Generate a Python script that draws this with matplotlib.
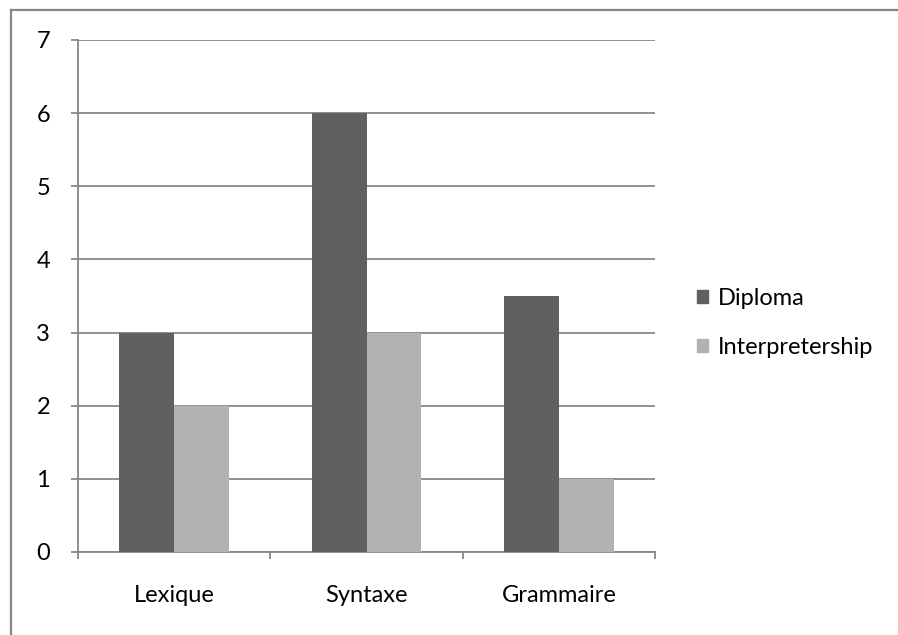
import numpy as np
import matplotlib
matplotlib.use("Agg")
from matplotlib import pyplot as plt
from matplotlib.patches import Patch
from matplotlib.lines import Line2D

categories = ["Lexique", "Syntaxe", "Grammaire"]
diploma = [3, 6, 3.5]
interpretership = [2, 3, 1]
series_names = ["Diploma", "Interpretership"]

plt.rcParams['font.family'] = ['Lato', 'DejaVu Sans']
GRID = '#878787'
DARK = '#606060'
LIGHT = '#b2b2b2'
FS = 17

fig = plt.figure(figsize=(8.98, 6.35), dpi=100)
ax = fig.add_axes([78/898, 1-552/635, (655-78)/898, (552-40)/635])

x = np.arange(len(categories))
w = 0.285
ax.bar(x - w/2, diploma, w, color=DARK, zorder=3)
ax.bar(x + w/2, interpretership, w, color=LIGHT, zorder=3)

ax.set_xlim(-0.5, 2.5)
ax.set_ylim(0, 7)
ax.set_yticks(range(0, 8))
ax.yaxis.grid(True, color=GRID, linewidth=1.3, zorder=0)
ax.set_xticks(x)
ax.set_xticklabels(categories, fontsize=FS)
ax.set_xticks([-0.5, 0.5, 1.5, 2.5], minor=True)
ax.tick_params(axis='x', which='major', length=0, pad=24)
ax.tick_params(axis='x', which='minor', length=5, color=GRID, width=1.3)
ax.tick_params(axis='y', length=5, color=GRID, width=1.3, pad=15, labelsize=FS)
for s in ['top', 'right']:
    ax.spines[s].set_visible(False)
for s in ['left', 'bottom']:
    ax.spines[s].set_color(GRID)
    ax.spines[s].set_linewidth(1.3)

handles = [Patch(color=DARK), Patch(color=LIGHT)]
fig.legend(handles, series_names, loc='center left', bbox_to_anchor=(697/898, 1-323/635),
           frameon=False, handlelength=0.47, handleheight=0.47, handletextpad=0.42,
           labelspacing=1.2, borderpad=0, borderaxespad=0, fontsize=FS)

# outer frame (top and left edges visible)
fig.add_artist(Line2D([11/898, 897/898], [1-10/635, 1-10/635], color=GRID, linewidth=1.6))
fig.add_artist(Line2D([11/898, 11/898], [1-10/635, 0], color=GRID, linewidth=1.6))

fig.savefig("out.png", dpi=100)
